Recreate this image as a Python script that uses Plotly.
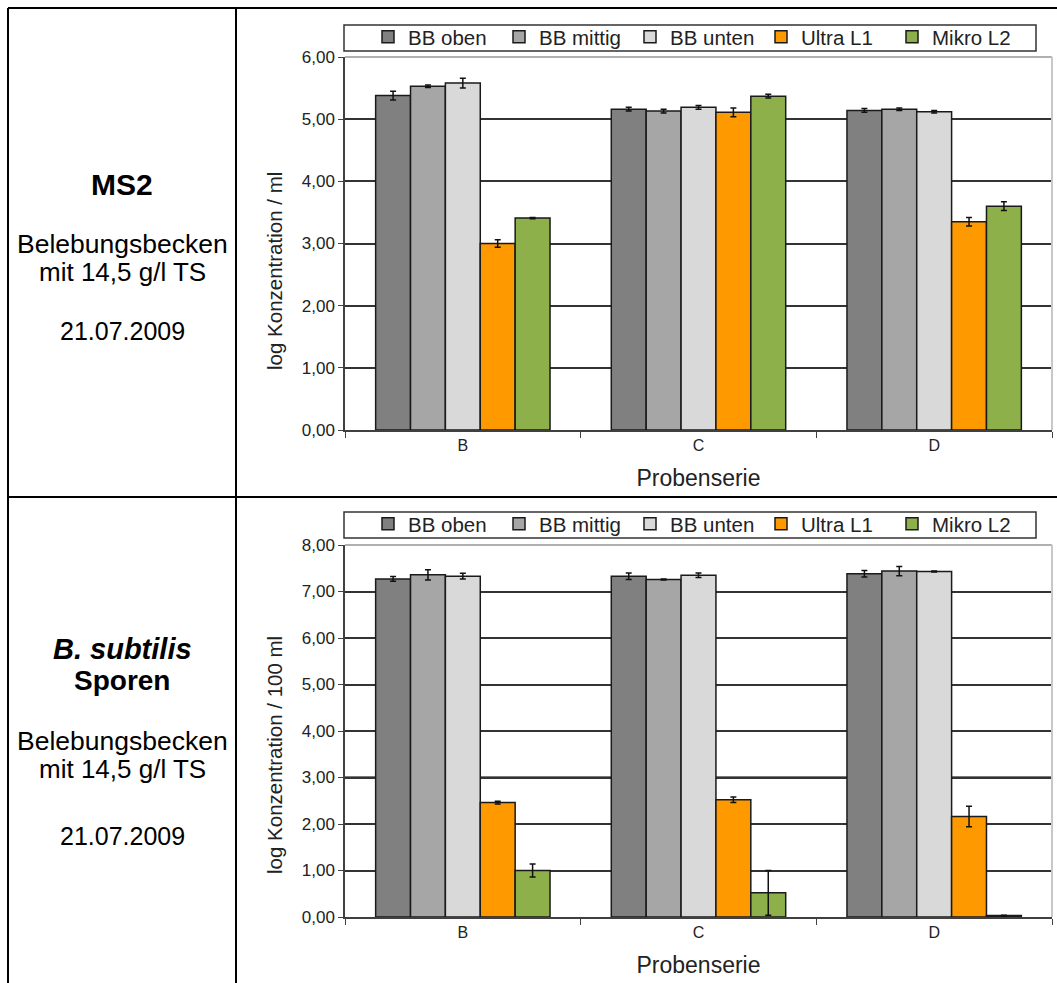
import plotly.graph_objects as go

# Sample series (x categories) and the five sampling points
categories = ["B", "C", "D"]
series_names = ["BB oben", "BB mittig", "BB unten", "Ultra L1", "Mikro L2"]
series_colors = ["#808080", "#A6A6A6", "#D9D9D9", "#FF9900", "#8DB04B"]

# MS2: log concentration per ml (mean and standard deviation)
ms2_bb_oben = [5.38, 5.16, 5.14]
ms2_bb_mittig = [5.53, 5.13, 5.16]
ms2_bb_unten = [5.58, 5.19, 5.12]
ms2_ultra_l1 = [3.00, 5.11, 3.35]
ms2_mikro_l2 = [3.41, 5.37, 3.60]

ms2_bb_oben_sd = [0.07, 0.03, 0.03]
ms2_bb_mittig_sd = [0.02, 0.03, 0.02]
ms2_bb_unten_sd = [0.08, 0.03, 0.02]
ms2_ultra_l1_sd = [0.06, 0.07, 0.07]
ms2_mikro_l2_sd = [0.01, 0.03, 0.07]

# B. subtilis spores: log concentration per 100 ml
bs_bb_oben = [7.27, 7.33, 7.38]
bs_bb_mittig = [7.36, 7.26, 7.44]
bs_bb_unten = [7.33, 7.35, 7.43]
bs_ultra_l1 = [2.46, 2.52, 2.16]
bs_mikro_l2 = [1.00, 0.52, 0.03]

bs_bb_oben_sd = [0.05, 0.07, 0.07]
bs_bb_mittig_sd = [0.11, 0.01, 0.10]
bs_bb_unten_sd = [0.06, 0.05, 0.01]
bs_ultra_l1_sd = [0.03, 0.06, 0.22]
bs_mikro_l2_sd = [0.14, 0.48, 0.01]

ms2_values = [ms2_bb_oben, ms2_bb_mittig, ms2_bb_unten, ms2_ultra_l1, ms2_mikro_l2]
ms2_errors = [ms2_bb_oben_sd, ms2_bb_mittig_sd, ms2_bb_unten_sd, ms2_ultra_l1_sd, ms2_mikro_l2_sd]
bs_values = [bs_bb_oben, bs_bb_mittig, bs_bb_unten, bs_ultra_l1, bs_mikro_l2]
bs_errors = [bs_bb_oben_sd, bs_bb_mittig_sd, bs_bb_unten_sd, bs_ultra_l1_sd, bs_mikro_l2_sd]

ms2_ticks = [0, 1, 2, 3, 4, 5, 6]
bs_ticks = [0, 1, 2, 3, 4, 5, 6, 7, 8]

W, H = 1057, 983
FONT = "Liberation Sans, Arial, sans-serif"
INK = "#222222"


def px(x):
    return x / W


def py(y):
    return 1 - y / H


fig = go.Figure()

for vals, errs, xa, ya, lg in [
    (ms2_values, ms2_errors, "x", "y", "legend"),
    (bs_values, bs_errors, "x2", "y2", "legend2"),
]:
    for name, color, v, e in zip(series_names, series_colors, vals, errs):
        fig.add_trace(go.Bar(
            x=categories, y=v, name=name,
            marker=dict(color=color, line=dict(color="#1a1a1a", width=1.5)),
            error_y=dict(type="data", array=e, color="#111111", thickness=1.5, width=3),
            xaxis=xa, yaxis=ya, legend=lg,
        ))

xdom = [px(345), px(1052)]
tick_font = dict(family=FONT, size=17, color=INK)
cat_font = dict(family=FONT, size=16, color=INK)
xtitle_font = dict(family=FONT, size=23, color=INK)
ytitle_font = dict(family=FONT, size=20.5, color=INK)


def x_axis(anchor):
    return dict(domain=xdom, anchor=anchor, type="category",
                showline=True, linecolor="#404040", linewidth=1.5,
                ticks="outside", tickson="boundaries", ticklen=6, tickcolor="#404040",
                tickfont=cat_font, showgrid=False,
                title=dict(text="Probenserie", font=xtitle_font, standoff=17))


def y_axis(anchor, dom, rng, ticks):
    return dict(domain=dom, anchor=anchor, range=rng,
                tickvals=ticks, tickformat=".2f",
                showline=True, linecolor="#404040", linewidth=1.5,
                ticks="outside", ticklen=5, tickcolor="#404040",
                showgrid=True, gridcolor="#333333", gridwidth=1.5,
                tickfont=tick_font)


def legend_box(top):
    return dict(orientation="h", x=px(368), xanchor="left", y=py(top), yanchor="top",
                bgcolor="rgba(0,0,0,0)", borderwidth=0,
                font=dict(family=FONT, size=20.5, color=INK),
                entrywidth=86, entrywidthmode="pixels", itemwidth=30,
                traceorder="normal")


fig.update_layout(
    width=W, height=H,
    margin=dict(l=0, r=0, t=0, b=0, autoexpand=False),
    paper_bgcolor="white", plot_bgcolor="white",
    separators=",.",
    barmode="group", bargap=0.26, bargroupgap=0,
    font=dict(family=FONT, color=INK),
    xaxis=x_axis("y"),
    yaxis=y_axis("x", [py(430), py(57)], [0, 6], ms2_ticks),
    xaxis2=x_axis("y2"),
    yaxis2=y_axis("x2", [py(917), py(545)], [0, 8], bs_ticks),
    legend=legend_box(17),
    legend2=legend_box(504),
)

# y-axis titles, set slightly below the middle of each plot area
for text, y in [("log Konzentration / ml", 271), ("log Konzentration / 100 ml", 755)]:
    fig.add_annotation(text=text, xref="paper", yref="paper", x=px(274), y=py(y),
                       xanchor="center", yanchor="middle", textangle=-90, showarrow=False,
                       font=ytitle_font)

shapes = []
# table rules
for (x0, y0, x1, y1) in [(8, 8, 1060, 8), (8, 497, 1060, 497), (8, 8, 8, 990), (236, 8, 236, 990)]:
    shapes.append(dict(type="line", xref="paper", yref="paper",
                       x0=px(x0), y0=py(y0), x1=px(x1), y1=py(y1),
                       line=dict(color="black", width=2)))
# legend frames
for (y0, y1) in [(25, 51), (512, 538)]:
    shapes.append(dict(type="rect", xref="paper", yref="paper",
                       x0=px(344), x1=px(1036), y0=py(y0), y1=py(y1),
                       line=dict(color="#333333", width=1.5), layer="below"))
# light plot frame on top and right
for xr, yr in [("x domain", "y domain"), ("x2 domain", "y2 domain")]:
    shapes.append(dict(type="line", xref=xr, yref=yr, x0=0, x1=1, y0=1, y1=1,
                       line=dict(color="#b0b0b0", width=2)))
    shapes.append(dict(type="line", xref=xr, yref=yr, x0=1, x1=1, y0=0, y1=1,
                       line=dict(color="#c8c8c8", width=2)))
# heavier 3,00 rule in the spore chart
shapes.append(dict(type="line", xref="x2 domain", yref="y2", x0=0, x1=1, y0=3, y1=3,
                   line=dict(color="#7a7a7a", width=3), layer="below"))
fig.update_layout(shapes=shapes)

cx = px(122)
ann = [
    ("<b>MS2</b>", 185, 30),
    ("Belebungsbecken", 244, 26.5),
    ("mit 14,5 g/l TS", 272, 26),
    ("21.07.2009", 331, 25),
    ("<b><i>B. subtilis</i></b>", 649, 29),
    ("<b>Sporen</b>", 680, 28),
    ("Belebungsbecken", 741, 26.5),
    ("mit 14,5 g/l TS", 769, 26),
    ("21.07.2009", 836, 25),
]
for text, y, size in ann:
    fig.add_annotation(text=text, xref="paper", yref="paper", x=cx, y=py(y),
                       xanchor="center", yanchor="middle", showarrow=False,
                       font=dict(family=FONT, size=size, color="black"))

fig.write_html("out.html")
